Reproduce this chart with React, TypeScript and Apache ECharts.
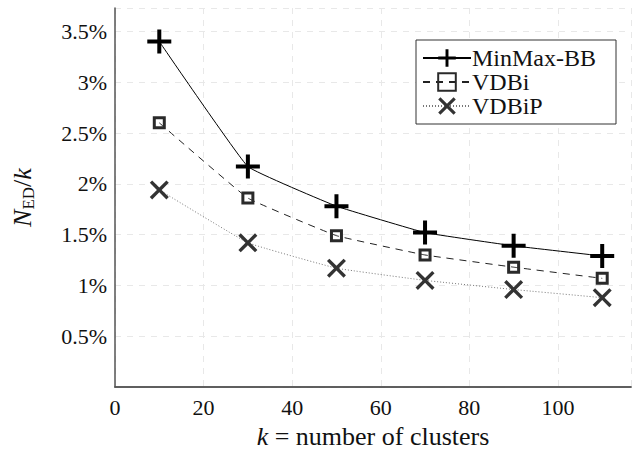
import React, { useEffect, useRef } from "react";
import * as echarts from "echarts";

const kValues = [10, 30, 50, 70, 90, 110];
const minMaxBB = [3.4, 2.17, 1.78, 1.52, 1.39, 1.29];
const vdbi = [2.6, 1.86, 1.49, 1.3, 1.18, 1.07];
const vdbip = [1.94, 1.42, 1.17, 1.05, 0.96, 0.88];
const seriesNames = ["MinMax-BB", "VDBi", "VDBiP"];

const PLUS = "path://M10,0 H14 V10 H24 V14 H14 V24 H10 V14 H0 V10 H10 Z";
const CROSS = "path://M0,3 L3,0 L12,9 L21,0 L24,3 L15,12 L24,21 L21,24 L12,15 L3,24 L0,21 L9,12 Z";
const FONT = "Liberation Serif";

export default function App() {
  const ref = useRef<HTMLDivElement>(null);
  useEffect(() => {
    const chart = echarts.init(ref.current!, null, { renderer: "svg" });
    const pts = (ys: number[]) => kValues.map((k, i) => [k, ys[i]]);
    chart.setOption({
      animation: false,
      backgroundColor: "#fff",
      textStyle: { fontFamily: FONT },
      grid: { left: 115, top: 8, right: 1, bottom: 61 },
      legend: {
        right: 18,
        top: 40,
        orient: "vertical",
        backgroundColor: "#fff",
        borderColor: "#333",
        borderWidth: 1,
        borderRadius: 0,
        padding: [6, 6, 6, 6],
        itemWidth: 48,
        itemHeight: 22,
        itemGap: 0,
        textStyle: { fontFamily: FONT, fontSize: 24, color: "#111", padding: [0, 0, 0, -4], lineHeight: 23, width: 138 },
        data: seriesNames,
      },
      xAxis: [
        {
          type: "value",
          min: 0,
          max: 116.5,
          interval: 20,
          axisLine: { show: true, onZero: false, lineStyle: { color: "#555", width: 1.5 } },
          axisTick: { show: false },
          axisLabel: {
            margin: 9,
            fontFamily: FONT,
            fontSize: 22,
            color: "#111",
            formatter: (v: number) => (v % 20 === 0 ? String(v) : ""),
          },
          splitLine: { show: true, lineStyle: { color: "#e8e8e8", type: [6, 6], width: 1 } },
          name: "{i|k} = number of clusters",
          nameLocation: "middle",
          nameGap: 32,
          nameTextStyle: {
            fontFamily: FONT,
            fontSize: 26,
            color: "#111",
            rich: {
              i: { fontFamily: FONT, fontSize: 26, fontStyle: "italic", color: "#111" },
            },
          },
        },
        {
          type: "value",
          position: "top",
          min: 0,
          max: 116.5,
          axisLine: { show: true, lineStyle: { color: "#555", width: 1.5 } },
          axisTick: { show: false },
          axisLabel: { show: false },
          splitLine: { show: false },
        },
      ],
      yAxis: {
        type: "value",
        min: 0,
        max: 3.73,
        interval: 0.5,
        axisLine: { show: true, lineStyle: { color: "#555", width: 1.5 } },
        axisTick: { show: false },
        axisLabel: {
          margin: 8,
          fontFamily: FONT,
          fontSize: 22,
          color: "#111",
          formatter: (v: number) => {
            const r = Math.round(v * 2) / 2;
            if (v <= 0 || Math.abs(v - r) > 1e-6) return "";
            return `${r}%`;
          },
        },
        splitLine: { show: true, lineStyle: { color: "#e8e8e8", type: [6, 6], width: 1 } },
        name: "{i|N}{sub|ED}{n|/}{i|k}",
        nameLocation: "middle",
        nameGap: 78,
        nameTextStyle: {
          fontFamily: FONT,
          fontSize: 26,
          color: "#111",
          rich: {
            i: { fontFamily: FONT, fontSize: 26, fontStyle: "italic", color: "#111", lineHeight: 30, verticalAlign: "middle" },
            n: { fontFamily: FONT, fontSize: 26, color: "#111", lineHeight: 30, verticalAlign: "middle" },
            sub: { fontFamily: FONT, fontSize: 17, color: "#111", lineHeight: 30, verticalAlign: "bottom" },
          },
        },
      },
      series: [
        {
          name: seriesNames[0],
          type: "line",
          data: pts(minMaxBB),
          smooth: 0.08,
          symbol: PLUS,
          symbolSize: 24,
          itemStyle: { color: "#000" },
          lineStyle: { color: "#000", width: 1 },
          z: 3,
        },
        {
          name: seriesNames[1],
          type: "line",
          data: pts(vdbi),
          smooth: 0.08,
          symbol: "rect",
          symbolSize: 10,
          itemStyle: { color: "rgba(255,255,255,0)", borderColor: "#2a2a2a", borderWidth: 3 },
          lineStyle: { color: "#222", width: 1, type: [7, 6] },
          z: 2,
        },
        {
          name: seriesNames[2],
          type: "line",
          data: pts(vdbip),
          smooth: 0.08,
          symbol: CROSS,
          symbolSize: 19,
          itemStyle: { color: "#333" },
          lineStyle: { color: "#777", width: 1, type: [1, 2] },
          z: 1,
        },
      ],
    });
    return () => chart.dispose();
  }, []);
  return <div ref={ref} style={{ position: "fixed", left: 0, top: 0, width: 634, height: 454 }} />;
}
